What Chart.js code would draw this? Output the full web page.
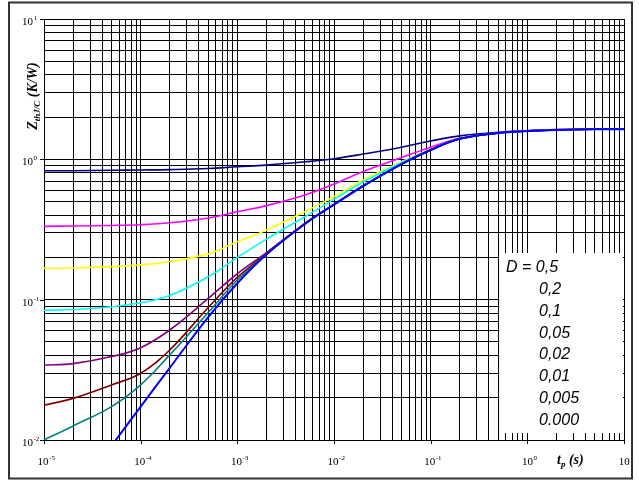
<!DOCTYPE html>
<html>
<head>
<meta charset="utf-8">
<script src="https://cdn.jsdelivr.net/npm/chart.js@4/dist/chart.umd.min.js"></script>
<style>
  body { margin: 0; background: #fff; }
  #wrap { width: 639px; height: 480px; }
</style>
</head>
<body>
<div id="wrap"><canvas id="myChart" width="639" height="480"></canvas></div>
<script>
// pulse duration t_p (s)
const tp = [1e-5, 2e-5, 5e-5, 1e-4, 2e-4, 5e-4, 1e-3, 2e-3, 5e-3, 1e-2, 2e-2, 5e-2, 1e-1, 2e-1, 5e-1, 1, 2, 5, 10]

// Zth(j-c) in K/W, one list per duty cycle D
const zD05   = [0.83, 0.83, 0.835, 0.84, 0.845, 0.86, 0.885, 0.91, 0.96, 1.01, 1.09, 1.22, 1.35, 1.47, 1.56, 1.60, 1.63, 1.64, 1.64]
const zD02   = [0.333, 0.335, 0.338, 0.342, 0.353, 0.382, 0.423, 0.468, 0.557, 0.667, 0.82, 1.03, 1.22, 1.41, 1.54, 1.60, 1.63, 1.64, 1.64]
const zD01   = [0.167, 0.168, 0.172, 0.177, 0.187, 0.212, 0.259, 0.313, 0.424, 0.542, 0.713, 0.96, 1.18, 1.40, 1.54, 1.59, 1.62, 1.64, 1.64]
const zD005  = [0.084, 0.085, 0.089, 0.095, 0.107, 0.146, 0.2, 0.27, 0.39, 0.52, 0.69, 0.95, 1.17, 1.40, 1.54, 1.59, 1.62, 1.64, 1.64]
const zD002  = [0.0342, 0.035, 0.0393, 0.0455, 0.0608, 0.102, 0.153, 0.216, 0.35, 0.478, 0.648, 0.928, 1.166, 1.40, 1.54, 1.59, 1.62, 1.64, 1.64]
const zD001  = [0.0177, 0.0198, 0.0247, 0.0299, 0.0438, 0.088, 0.144, 0.213, 0.348, 0.477, 0.647, 0.927, 1.166, 1.40, 1.54, 1.59, 1.62, 1.64, 1.64]
const zD0005 = [0.0100, 0.0126, 0.0173, 0.0247, 0.0404, 0.081, 0.138, 0.211, 0.347, 0.476, 0.646, 0.926, 1.166, 1.40, 1.54, 1.59, 1.62, 1.64, 1.64]
const zD0    = [null, null, 0.0091, 0.0173, 0.0327, 0.0752, 0.131, 0.21, 0.346, 0.475, 0.645, 0.926, 1.166, 1.40, 1.54, 1.59, 1.62, 1.64, 1.64]

const dutyLabels = ['D = 0,5', '0,2', '0,1', '0,05', '0,02', '0,01', '0,005', '0.000']
const series = [zD05, zD02, zD01, zD005, zD002, zD001, zD0005, zD0]
const colors = ['#000080', '#ff00ff', '#ffff00', '#00ffff', '#800080', '#800000', '#008080', '#0000ff']

// decade tick labels (10^n)
const xExponents = ['-5', '-4', '-3', '-2', '-1', '0', '1']
const yExponents = ['-2', '-1', '0', '1']

const toPoints = (vals) => tp.map((t, i) => ({x: t, y: vals[i]})).filter(p => p.y !== null)

const datasets = series.map((vals, i) => ({
  label: dutyLabels[i],
  data: toPoints(vals),
  borderColor: colors[i],
  borderWidth: i === series.length - 1 ? 2 : 1.6,
  pointRadius: 0,
  fill: false,
  tension: 0.4,
  order: series.length - i
}))

// log grid lines at 1..9 x 10^n
function logTicks(exps) {
  const ticks = []
  const lo = parseInt(exps[0]), hi = parseInt(exps[exps.length - 1])
  for (let e = lo; e < hi; e++) {
    for (let k = 1; k < 10; k++) ticks.push({value: k * Math.pow(10, e)})
  }
  ticks.push({value: Math.pow(10, hi)})
  return ticks
}

function drawPow(ctx, exp, x, y, align) {
  ctx.font = '11px "Liberation Serif", serif'
  const wBase = ctx.measureText('10').width
  ctx.font = '7px "Liberation Serif", serif'
  const wExp = ctx.measureText(exp).width
  let left = x
  if (align === 'center') left = x - (wBase + wExp) / 2
  ctx.textAlign = 'left'
  ctx.textBaseline = 'alphabetic'
  ctx.font = '11px "Liberation Serif", serif'
  ctx.fillText('10', left, y)
  ctx.font = '7px "Liberation Serif", serif'
  ctx.fillText(exp, left + wBase + 0.5, y - 5)
}

const decorPlugin = {
  id: 'decor',
  beforeDatasetsDraw(chart) {
    const {ctx, chartArea} = chart
    const x = chart.scales.x
    // white panel behind the D labels
    const left = x.getPixelForValue(0.5) + 1
    ctx.save()
    ctx.fillStyle = '#fff'
    ctx.fillRect(left, chartArea.bottom - 187, chartArea.right - 1 - left, 180)
    ctx.restore()
  },
  afterDraw(chart) {
    const {ctx, chartArea} = chart
    const xs = chart.scales.x, ys = chart.scales.y
    ctx.save()
    ctx.fillStyle = '#000'
    ctx.strokeStyle = '#000'
    ctx.lineWidth = 1

    // outward decade ticks
    ctx.beginPath()
    xExponents.forEach(e => {
      const px = Math.round(xs.getPixelForValue(Math.pow(10, +e))) + 0.5
      ctx.moveTo(px, chartArea.bottom)
      ctx.lineTo(px, chartArea.bottom + 4)
    })
    yExponents.forEach(e => {
      const py = Math.round(ys.getPixelForValue(Math.pow(10, +e))) + 0.5
      ctx.moveTo(chartArea.left - 4, py)
      ctx.lineTo(chartArea.left, py)
    })
    ctx.stroke()

    // tick labels
    xExponents.forEach(e => {
      drawPow(ctx, e, xs.getPixelForValue(Math.pow(10, +e)) + 2, chartArea.bottom + 25, 'center')
    })
    yExponents.forEach(e => {
      drawPow(ctx, e, 22, ys.getPixelForValue(Math.pow(10, +e)) + 6, 'left')
    })

    // x title: t_p (s)
    ctx.textAlign = 'left'
    ctx.textBaseline = 'alphabetic'
    let tx = 557
    const ty = 464
    ctx.font = 'bold italic 14px "Liberation Serif", serif'
    ctx.fillText('t', tx, ty)
    tx += ctx.measureText('t').width
    ctx.font = 'bold italic 9px "Liberation Serif", serif'
    ctx.fillText('p', tx, ty + 3)
    tx += ctx.measureText('p').width
    ctx.font = 'bold italic 14px "Liberation Serif", serif'
    ctx.fillText(' (s)', tx, ty)

    // y title: Z_thJ/C (K/W), rotated
    ctx.save()
    ctx.translate(37, 96)
    ctx.rotate(-Math.PI / 2)
    ctx.font = 'bold italic 14px "Liberation Serif", serif'
    const wZ = ctx.measureText('Z').width
    const wRest = ctx.measureText(' (K/W)').width
    ctx.font = 'bold italic 9px "Liberation Serif", serif'
    const wSub = ctx.measureText('thJ/C').width
    let sx = -(wZ + wSub + wRest) / 2
    ctx.font = 'bold italic 14px "Liberation Serif", serif'
    ctx.fillText('Z', sx, 0)
    sx += wZ
    ctx.font = 'bold italic 9px "Liberation Serif", serif'
    ctx.fillText('thJ/C', sx, 3)
    sx += wSub
    ctx.font = 'bold italic 14px "Liberation Serif", serif'
    ctx.fillText(' (K/W)', sx, 0)
    ctx.restore()

    // D labels
    ctx.font = 'italic 16px "Liberation Sans", Arial, sans-serif'
    ctx.textBaseline = 'middle'
    ctx.textAlign = 'left'
    dutyLabels.forEach((lab, i) => {
      const ly = 268 + i * 21.75
      ctx.fillText(lab, i === 0 ? 506 : 539, ly)
    })

    // outer frame
    ctx.lineWidth = 2
    ctx.strokeStyle = '#333'
    ctx.strokeRect(9, 2.5, 623, 476)
    ctx.restore()
  }
}

const canvas = document.getElementById('myChart')
const myChart = new Chart(canvas, {
  type: 'line',
  data: { datasets: datasets },
  options: {
    responsive: false,
    animation: false,
    events: [],
    layout: { padding: { left: 44, right: 15, top: 19, bottom: 40 } },
    plugins: { legend: { display: false }, tooltip: { enabled: false } },
    scales: {
      x: {
        type: 'logarithmic',
        min: 1e-5,
        max: 10,
        afterBuildTicks: (axis) => { axis.ticks = logTicks(xExponents) },
        ticks: { display: false, autoSkip: false },
        grid: { color: '#000', lineWidth: 1, drawTicks: false },
        border: { color: '#000', width: 1 }
      },
      y: {
        type: 'logarithmic',
        min: 0.01,
        max: 10,
        afterBuildTicks: (axis) => { axis.ticks = logTicks(yExponents) },
        ticks: { display: false, autoSkip: false },
        grid: { color: '#000', lineWidth: 1, drawTicks: false },
        border: { color: '#000', width: 1 }
      }
    }
  },
  plugins: [decorPlugin]
})
</script>
</body>
</html>
